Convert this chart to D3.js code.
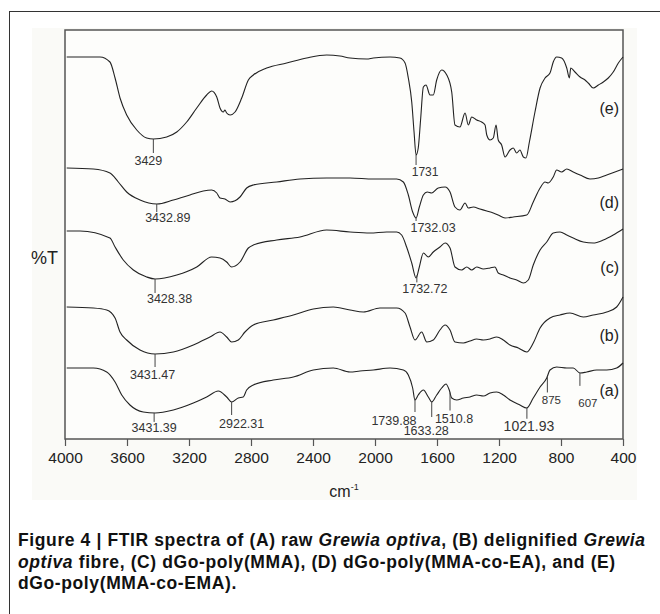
<!DOCTYPE html>
<html>
<head>
<meta charset="utf-8">
<script src="https://cdnjs.cloudflare.com/ajax/libs/d3/7.8.5/d3.min.js"></script>
<style>
  body { margin: 0; background: #fff; }
  svg text { font-family: "Liberation Sans", Arial, sans-serif; }
</style>
</head>
<body>
<div id="chart"></div>
<script>
// x axis ticks (wavenumber, cm-1)
const wavenumberTicks = [4000, 3600, 3200, 2800, 2400, 2000, 1600, 1200, 800, 400];

// spectra, [wavenumber, %T in stacked offset units]
const seriesA = [[3989,71],[3817,71],[3731,67],[3677,57],[3634,44],[3581,34],[3495,27],[3419,26],[3301,29],[3172,36],[3086,42],[3011,48],[2957,42],[2925,37],[2882,41],[2850,42],[2828,49],[2785,54],[2656,59],[2527,62],[2398,69],[2269,71],[2161,67],[2097,68],[2011,69],[1903,71],[1817,69],[1785,64],[1757,51],[1742,39],[1721,44],[1688,49],[1656,42],[1634,37],[1602,44],[1570,51],[1542,55],[1521,49],[1505,41],[1473,39],[1430,41],[1387,42],[1344,44],[1301,43],[1258,46],[1215,47],[1172,44],[1129,39],[1065,34],[1021,31],[979,41],[935,52],[892,61],[871,69],[828,72],[763,71],[721,71],[677,66],[634,67],[570,69],[505,69],[441,71],[400,76]];
const seriesB = [[3989,132],[3817,131],[3731,129],[3677,121],[3645,107],[3602,99],[3516,89],[3419,85],[3301,87],[3172,94],[3065,102],[3000,107],[2957,102],[2925,97],[2882,99],[2839,107],[2785,114],[2656,119],[2527,124],[2398,130],[2269,132],[2161,129],[2075,127],[1968,131],[1860,131],[1806,126],[1774,112],[1742,99],[1699,107],[1666,97],[1624,99],[1581,109],[1548,114],[1516,109],[1484,97],[1430,96],[1387,98],[1344,100],[1301,99],[1258,100],[1215,102],[1172,99],[1129,94],[1075,91],[1021,87],[979,96],[935,111],[871,121],[806,124],[742,126],[656,122],[592,124],[505,127],[441,132],[400,142]];
const seriesC = [[3989,208],[3903,208],[3710,201],[3677,192],[3624,179],[3559,169],[3473,162],[3419,160],[3279,164],[3150,172],[3054,182],[3000,181],[2957,177],[2925,172],[2871,177],[2817,191],[2785,194],[2634,199],[2484,202],[2312,209],[2161,207],[2032,206],[1925,207],[1860,207],[1828,204],[1796,192],[1763,176],[1735,161],[1714,172],[1688,186],[1656,182],[1624,187],[1581,192],[1548,196],[1516,191],[1484,172],[1441,169],[1408,172],[1376,169],[1344,172],[1301,170],[1258,171],[1226,172],[1205,166],[1172,164],[1129,161],[1086,159],[1043,156],[1011,159],[979,174],[935,189],[892,197],[850,206],[806,207],[763,204],[721,201],[656,197],[592,196],[527,199],[463,204],[400,210]];
const seriesD = [[3989,271],[3817,270],[3710,266],[3656,257],[3602,247],[3516,239],[3408,235],[3301,239],[3194,244],[3108,248],[3054,249],[3021,246],[3000,241],[2968,240],[2935,237],[2871,242],[2828,251],[2785,254],[2634,257],[2484,260],[2312,261],[2161,261],[2011,260],[1860,260],[1817,257],[1785,244],[1757,227],[1735,221],[1714,232],[1688,244],[1663,247],[1634,246],[1592,251],[1548,252],[1516,247],[1484,232],[1452,229],[1419,236],[1398,231],[1366,232],[1323,230],[1279,228],[1237,226],[1205,224],[1161,221],[1108,222],[1021,224],[979,237],[935,251],[903,257],[882,256],[850,262],[828,269],[796,267],[763,270],[721,267],[677,264],[613,260],[559,261],[505,264],[452,267],[400,270]];
const seriesE = [[3989,382],[3774,382],[3710,377],[3677,361],[3645,341],[3602,324],[3537,309],[3473,301],[3430,300],[3344,302],[3279,307],[3215,317],[3150,331],[3086,344],[3054,348],[3021,342],[3000,331],[2979,327],[2968,329],[2957,326],[2935,324],[2903,327],[2860,341],[2817,359],[2785,364],[2699,371],[2570,376],[2441,381],[2312,384],[2226,383],[2161,381],[2054,380],[2011,381],[1903,382],[1839,381],[1806,376],[1785,361],[1763,337],[1748,307],[1735,284],[1721,291],[1705,321],[1688,352],[1671,354],[1645,344],[1624,344],[1602,359],[1570,369],[1537,364],[1505,347],[1484,314],[1452,312],[1419,326],[1398,314],[1376,322],[1344,319],[1312,317],[1290,314],[1279,304],[1258,299],[1237,301],[1219,314],[1205,299],[1183,294],[1161,282],[1129,289],[1108,291],[1086,286],[1065,289],[1043,282],[1026,281],[1004,297],[968,327],[935,351],[903,361],[871,366],[850,377],[828,382],[796,381],[763,371],[746,361],[737,371],[710,367],[677,362],[645,359],[624,356],[592,351],[559,354],[527,357],[495,361],[463,367],[430,376],[400,382]];

const seriesNames = ["(a)", "(b)", "(c)", "(d)", "(e)"];
const seriesList = [seriesA, seriesB, seriesC, seriesD, seriesE];

// marked peaks
const peakLabels = ["3429", "1731", "3432.89", "1732.03", "3428.38", "1732.72", "3431.47", "3431.39", "2922.31", "1739.88", "1633.28", "1510.8", "1021.93", "875", "607"];
const peakSeries = [4, 4, 3, 3, 2, 2, 1, 0, 0, 0, 0, 0, 0, 0, 0];
const peakAt = [3430, 1735, 3408, 1735, 3419, 1730, 3419, 3425, 2925, 1742, 1634, 1516, 1020, 888, 678];

// layout for the peak marks: tick length, label dx, label dy, font size
const peakLayout = [
  [14, -5, 12, 12.5], [10, 9, 11, 12], [8, 11, 10, 12.5], [3, 17, 11, 12.5],
  [14, 14.5, 10, 12.5], [7, 8, 11, 12.5], [13, -2.5, 12, 12.5], [9, 0, 10, 12.5],
  [13, 10, 13, 12.5], [12, -21, 13, 12.5], [15, -5.5, 18, 12.5], [18, 4, 12, 12.5],
  [11, 2, 12.5, 14], [16, 4, 12, 11.5], [13, 8, 21, 11.5]
];
// series name label heights (y units)
const nameY = [49, 104, 172, 237, 331];

const width = 660, height = 614;
const margin = {top: 30, right: 37, bottom: 175, left: 65};

const svg = d3.select("#chart").append("svg")
  .attr("width", width).attr("height", height);

// outer frame + light figure background
svg.append("rect").attr("x", 9.5).attr("y", 11.5).attr("width", 700).attr("height", 700)
  .attr("fill", "none").attr("stroke", "#333").attr("stroke-width", 1);
svg.append("rect").attr("x", 32).attr("y", 28).attr("width", 605).attr("height", 472)
  .attr("fill", "#fafaf7");

let x = d3.scaleLinear().domain([4000, 400]).range([margin.left, width - margin.right]);
let y = d3.scaleLinear().domain([0, 409]).range([height - margin.bottom, margin.top]);

// plot box
svg.append("rect")
  .attr("x", x(4000)).attr("y", y(409))
  .attr("width", x(400) - x(4000)).attr("height", y(0) - y(409))
  .attr("fill", "#fdfdfb").attr("stroke", "#555").attr("stroke-width", 1.5);

// Eixo horizontal
const xAxis = svg.append("g")
  .attr("transform", "translate(0," + y(0) + ")")
  .call(d3.axisBottom(x).tickValues(wavenumberTicks).tickFormat(d3.format("d"))
    .tickSize(7).tickSizeOuter(0).tickPadding(6));
xAxis.select(".domain").remove();
xAxis.selectAll("line").attr("stroke", "#555").attr("stroke-width", 1.2);
xAxis.selectAll("text").attr("font-size", 15.5).attr("fill", "#222")
  .attr("font-family", "Liberation Sans, Arial, sans-serif");

const line = d3.line()
  .x(d => x(d[0]))
  .y(d => y(d[1]))
  .curve(d3.curveMonotoneX);

svg.append("g")
  .selectAll("path")
  .data(seriesList)
  .join("path")
    .attr("d", line)
    .attr("fill", "none")
    .attr("stroke", "#222")
    .attr("stroke-width", 1.1);

// value of a series at a wavenumber
function valueAt(series, wn) {
  for (let i = 0; i < series.length - 1; i++) {
    const a = series[i], b = series[i + 1];
    if (wn <= a[0] && wn >= b[0]) {
      const t = (a[0] - wn) / (a[0] - b[0]);
      return a[1] + t * (b[1] - a[1]);
    }
  }
  return series[series.length - 1][1];
}

const peaks = peakLabels.map((label, i) => {
  const px = x(peakAt[i]);
  const top = y(valueAt(seriesList[peakSeries[i]], peakAt[i]));
  const l = peakLayout[i];
  return {label, px, top, bottom: top + l[0], dx: l[1], dy: l[2], size: l[3]};
});

const pg = svg.append("g");
pg.selectAll("line")
  .data(peaks)
  .join("line")
    .attr("x1", d => d.px).attr("x2", d => d.px)
    .attr("y1", d => d.top).attr("y2", d => d.bottom)
    .attr("stroke", "#444").attr("stroke-width", 1);
pg.selectAll("text")
  .data(peaks)
  .join("text")
    .attr("x", d => d.px + d.dx)
    .attr("y", d => d.bottom + d.dy)
    .attr("text-anchor", "middle")
    .attr("font-size", d => d.size)
    .attr("fill", "#333")
    .text(d => d.label);

// series names
svg.append("g")
  .selectAll("text")
  .data(seriesNames)
  .join("text")
    .attr("x", 619)
    .attr("y", (d, i) => y(nameY[i]) + 5.5)
    .attr("text-anchor", "end")
    .attr("font-size", 16)
    .attr("fill", "#222")
    .text(d => d);

// axis titles
svg.append("text").attr("x", 31).attr("y", 263.5)
  .attr("font-size", 18).attr("fill", "#222").text("%T");
const xt = svg.append("text").attr("x", (x(4000) + x(400)) / 2).attr("y", 497)
  .attr("text-anchor", "middle").attr("font-size", 16).attr("fill", "#222");
xt.append("tspan").text("cm");
xt.append("tspan").attr("dy", -7).attr("font-size", 9).text("-1");

// caption
const captionLines = [
  [["Figure 4 | FTIR spectra of (A) raw ", false], ["Grewia optiva", true], [", (B) delignified ", false], ["Grewia", true]],
  [["optiva", true], [" fibre, (C) dGo-poly(MMA), (D) dGo-poly(MMA-co-EA), and (E)", false]],
  [["dGo-poly(MMA-co-EMA).", false]]
];
const capBase = [546, 567.5, 589];
const caps = captionLines.map((segs, i) => {
  const t = svg.append("text").attr("x", 18).attr("y", capBase[i])
    .attr("font-size", 17.5).attr("font-weight", "bold").attr("fill", "#111")
    .style("font-family", "'Liberation Sans Narrow', 'Liberation Sans', Arial, sans-serif");
  segs.forEach(s => t.append("tspan").attr("font-style", s[1] ? "italic" : "normal").text(s[0]));
  return t;
});
// spread the narrow face so line 1 spans the same width as the original
const w1 = caps[0].node().getComputedTextLength();
const n1 = captionLines[0].map(s => s[0]).join("").length;
const spacing = Math.max(0, (627 - w1) / (n1 - 1));
caps.forEach(t => t.style("letter-spacing", spacing + "px"));
</script>
</body>
</html>
